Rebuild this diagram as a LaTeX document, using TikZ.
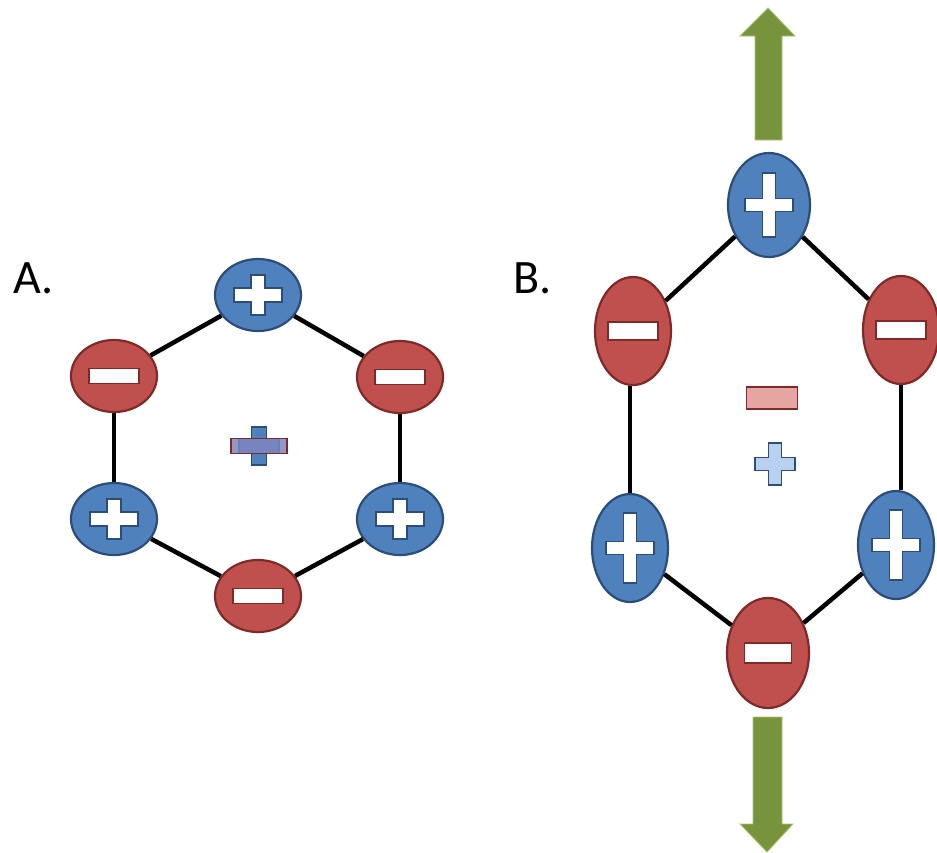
\documentclass[tikz,border=0pt]{standalone}
\usepackage{fontspec}
\setmainfont{Carlito}
\usetikzlibrary{shapes.geometric}
\definecolor{redfill}{HTML}{C0504D}
\definecolor{redline}{HTML}{7E2A28}
\definecolor{bluefill}{HTML}{4F81BD}
\definecolor{blueline}{HTML}{2C4D7A}
\definecolor{arrowgreen}{HTML}{77933C}
\definecolor{arrowedge}{HTML}{A9C46A}
\definecolor{pinkfill}{HTML}{E6A5A0}
\definecolor{lightblue}{HTML}{B9D0EE}
\definecolor{mixfill}{HTML}{7E86C0}
\tikzset{
  poscharge/.style={ellipse, draw=blueline, fill=bluefill, line width=2.2pt, inner sep=0pt},
  negcharge/.style={ellipse, draw=redline, fill=redfill, line width=2.2pt, inner sep=0pt},
  smallA/.style={minimum width=86pt, minimum height=72pt},
  tallB/.style={minimum width=76pt, minimum height=108pt},
  bond/.style={line width=4.5pt, black},
  possign/.style={fill=white, draw=blueline, line width=1.6pt},
  negsign/.style={fill=white, draw=redline, line width=1.6pt},
  bigarrow/.style={fill=arrowgreen, draw=arrowedge, line width=0.8pt},
  lbl/.style={font=\fontsize{48}{56}\selectfont, anchor=base west, inner sep=0pt},
}
% cross centred on a node: #1 node, #2 half width, #3 half height, #4 half bar, #5 style
\newcommand{\crossat}[5]{%
  \draw[#5, shift={(#1.center)}] (-#2,-#4) -- (-#4,-#4) -- (-#4,-#3) -- (#4,-#3) -- (#4,-#4) -- (#2,-#4)
    -- (#2,#4) -- (#4,#4) -- (#4,#3) -- (-#4,#3) -- (-#4,#4) -- (-#2,#4) -- cycle;}
\newcommand{\barat}[4]{%
  \draw[#4, shift={(#1.center)}] (-#2,-#3) rectangle (#2,#3);}
\begin{document}
\begin{tikzpicture}[x=1pt, y=-1pt]
\useasboundingbox (0,0) rectangle (937,852);
% ---------- A ----------
\node[lbl] (labA) at (13,293) {A.};
\node[poscharge, smallA] (a1) at (258,295) {};
\node[negcharge, smallA] (a2) at (400,377) {};
\node[poscharge, smallA] (a3) at (400,519) {};
\node[negcharge, smallA] (a4) at (258,596) {};
\node[poscharge, smallA] (a5) at (114,519) {};
\node[negcharge, smallA] (a6) at (114,376) {};
\draw[bond] (a1) -- (a2);
\draw[bond] (a2) -- (a3);
\draw[bond] (a3) -- (a4);
\draw[bond] (a4) -- (a5);
\draw[bond] (a5) -- (a6);
\draw[bond] (a6) -- (a1);
\crossat{a1}{24}{20}{7}{possign}
\crossat{a3}{24}{20}{7}{possign}
\crossat{a5}{24}{20}{7}{possign}
\barat{a2}{25}{7.5}{negsign}
\barat{a4}{25}{7.5}{negsign}
\barat{a6}{25}{7.5}{negsign}
\coordinate (ca) at (259,446);
\crossat{ca}{20}{19}{7.5}{fill=bluefill, draw=blueline, line width=1.4pt}
\barat{ca}{28}{7.5}{fill=mixfill, draw=redline, line width=1.8pt, fill opacity=0.85}
% ---------- B ----------
\node[lbl] (labB) at (513,293) {B.};
\node[poscharge, tallB, minimum width=82pt, minimum height=104pt] (b1) at (769,205) {};
\node[negcharge, tallB] (b2) at (901,330) {};
\node[poscharge, tallB] (b3) at (896,545) {};
\node[negcharge, tallB, minimum width=82pt, minimum height=110pt] (b4) at (768,653) {};
\node[poscharge, tallB] (b5) at (630,548) {};
\node[negcharge, tallB] (b6) at (633,331) {};
\draw[bond] (b1) -- (b2);
\draw[bond] (b2.south) -- (b2.south |- b3.north);
\draw[bond] (b3) -- (b4);
\draw[bond] (b4) -- (b5);
\draw[bond] (b5.north) -- (b5.north |- b6.south);
\draw[bond] (b6) -- (b1);
\crossat{b1}{24}{32}{6.5}{possign}
\crossat{b3}{24}{35}{6.5}{possign}
\crossat{b5}{24}{35}{6.5}{possign}
\barat{b2}{25}{9}{negsign}
\barat{b4}{23.5}{10}{negsign}
\barat{b6}{25}{9}{negsign}
\coordinate (cbm) at (772,398);
\coordinate (cbp) at (775,464);
\barat{cbm}{25.5}{11}{fill=pinkfill, draw=redline, line width=1.6pt}
\crossat{cbp}{20}{21}{6.5}{fill=lightblue, draw=blueline, line width=1.6pt}
% arrows
\coordinate (tipUp) at (768,8);
\coordinate (tipDown) at (767,852);
\draw[bigarrow] (tipUp) -- (795,36) -- (782,36) -- (782,140) -- (755,140) -- (755,36) -- (740,36) -- cycle;
\draw[bigarrow] (tipDown) -- (793,824) -- (782,824) -- (782,717) -- (753,717) -- (753,824) -- (740,824) -- cycle;
\end{tikzpicture}
\end{document}
